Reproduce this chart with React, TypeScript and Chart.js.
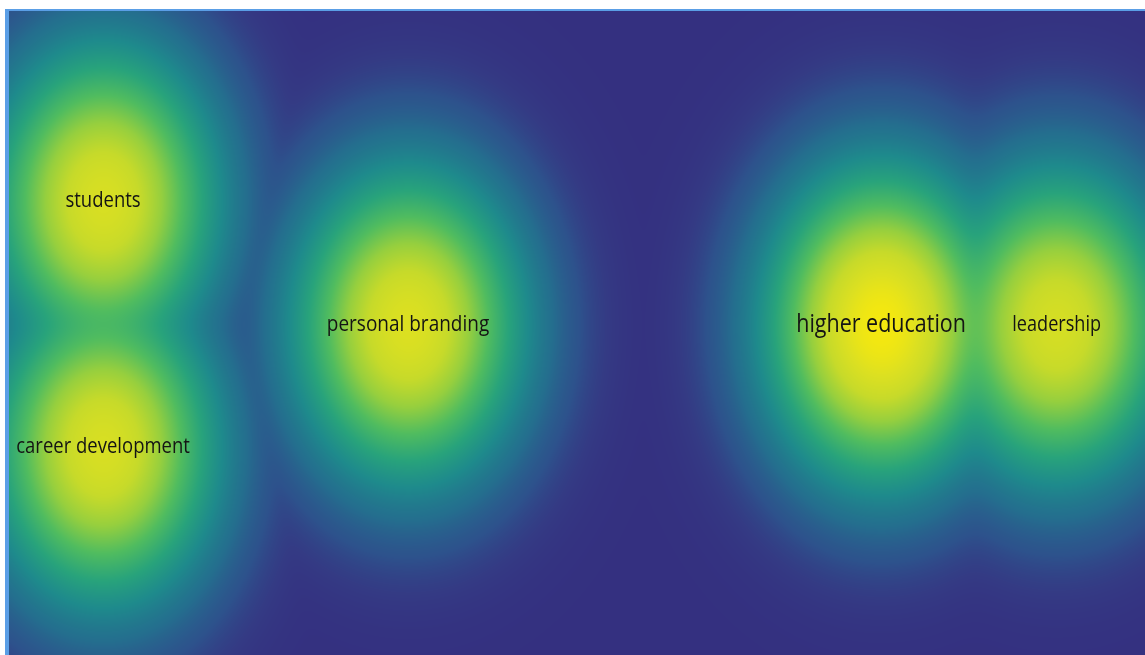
import React, { useEffect, useRef } from "react";
import { Chart, registerables } from "chart.js";

Chart.register(...registerables);

// Keywords (VOSviewer-style density map)
const labels = ["students", "career development", "personal branding", "higher education", "leadership"];
const xValues = [8.25, 8.25, 35.0, 76.5, 91.9];
const yValues = [70.8, 32.9, 51.7, 51.7, 51.7];
const weights = [0.97, 0.97, 1.0, 1.15, 0.95];

// kernel width in data units
const KX = 6.14;
const KY = 14.6;

const stops: [number, number, number, number][] = [
  [0.0, 52, 48, 128],
  [0.017, 52, 58, 132],
  [0.05, 45, 82, 140],
  [0.12, 36, 110, 142],
  [0.23, 30, 138, 140],
  [0.36, 40, 163, 123],
  [0.52, 80, 188, 95],
  [0.69, 150, 207, 62],
  [0.85, 198, 218, 42],
  [1.0, 220, 224, 33],
  [1.15, 245, 232, 15],
];

function colorFor(f: number): [number, number, number] {
  if (f <= stops[0][0]) return [stops[0][1], stops[0][2], stops[0][3]];
  for (let i = 1; i < stops.length; i++) {
    if (f <= stops[i][0]) {
      const a = stops[i - 1];
      const b = stops[i];
      const t = (f - a[0]) / (b[0] - a[0]);
      return [a[1] + (b[1] - a[1]) * t, a[2] + (b[2] - a[2]) * t, a[3] + (b[3] - a[3]) * t];
    }
  }
  const l = stops[stops.length - 1];
  return [l[1], l[2], l[3]];
}

const densityPlugin = {
  id: "density",
  beforeDatasetsDraw(chart: any) {
    const { ctx, chartArea, scales } = chart;
    const xs = scales.x;
    const ys = scales.y;
    const left = Math.round(chartArea.left);
    const top = Math.round(chartArea.top);
    const w = Math.round(chartArea.right - chartArea.left);
    const h = Math.round(chartArea.bottom - chartArea.top);
    const sx = Math.abs(xs.getPixelForValue(KX) - xs.getPixelForValue(0));
    const sy = Math.abs(ys.getPixelForValue(KY) - ys.getPixelForValue(0));
    const px = xValues.map((v) => xs.getPixelForValue(v) - left);
    const py = yValues.map((v) => ys.getPixelForValue(v) - top);
    const img = ctx.createImageData(w, h);
    const d = img.data;
    const n = px.length;
    for (let j = 0; j < h; j++) {
      for (let i = 0; i < w; i++) {
        let s = 0;
        for (let k = 0; k < n; k++) {
          const dx = (i - px[k]) / sx;
          const dy = (j - py[k]) / sy;
          const v = weights[k] * Math.exp(-0.5 * (dx * dx + dy * dy));
          s += v * v * v * v;
        }
        const f = Math.pow(s, 0.25);
        const c = colorFor(f);
        const o = (j * w + i) * 4;
        d[o] = c[0];
        d[o + 1] = c[1];
        d[o + 2] = c[2];
        d[o + 3] = 255;
      }
    }
    ctx.putImageData(img, left, top);
  },
  afterDatasetsDraw(chart: any) {
    const { ctx, scales } = chart;
    ctx.save();
    ctx.fillStyle = "#141414";
    ctx.textAlign = "center";
    ctx.textBaseline = "middle";
    for (let k = 0; k < labels.length; k++) {
      const size = 19 + (weights[k] - 1) * 17;
      const cx = scales.x.getPixelForValue(xValues[k]);
      const cy = scales.y.getPixelForValue(yValues[k]);
      ctx.save();
      ctx.translate(cx, cy);
      ctx.scale(1, 1.18);
      ctx.font = `${size.toFixed(1)}px "Open Sans"`;
      ctx.fillText(labels[k], 0, 0);
      ctx.restore();
    }
    ctx.restore();
  },
};

export default function App() {
  const ref = useRef<HTMLCanvasElement | null>(null);
  useEffect(() => {
    if (!ref.current) return;
    const chart = new Chart(ref.current, {
      type: "scatter",
      data: {
        datasets: [
          {
            data: xValues.map((x, i) => ({ x, y: yValues[i] })),
            pointRadius: 0,
            pointHoverRadius: 0,
          },
        ],
      },
      options: {
        animation: false,
        responsive: false,
        devicePixelRatio: 1,
        layout: { padding: 0 },
        events: [],
        plugins: { legend: { display: false }, tooltip: { enabled: false } },
        scales: {
          x: { type: "linear", min: 0, max: 100, display: false },
          y: { type: "linear", min: 0, max: 100, display: false },
        },
      },
      plugins: [densityPlugin],
    });
    return () => chart.destroy();
  }, []);
  return (
    <div
      style={{
        position: "fixed",
        left: 5,
        top: 9,
        borderLeft: "4px solid #5a9ee6",
        borderTop: "2px solid #5a9ee6",
        lineHeight: 0,
      }}
    >
      <canvas ref={ref} width={1140} height={650} style={{ display: "block", width: 1140, height: 650 }} />
    </div>
  );
}
